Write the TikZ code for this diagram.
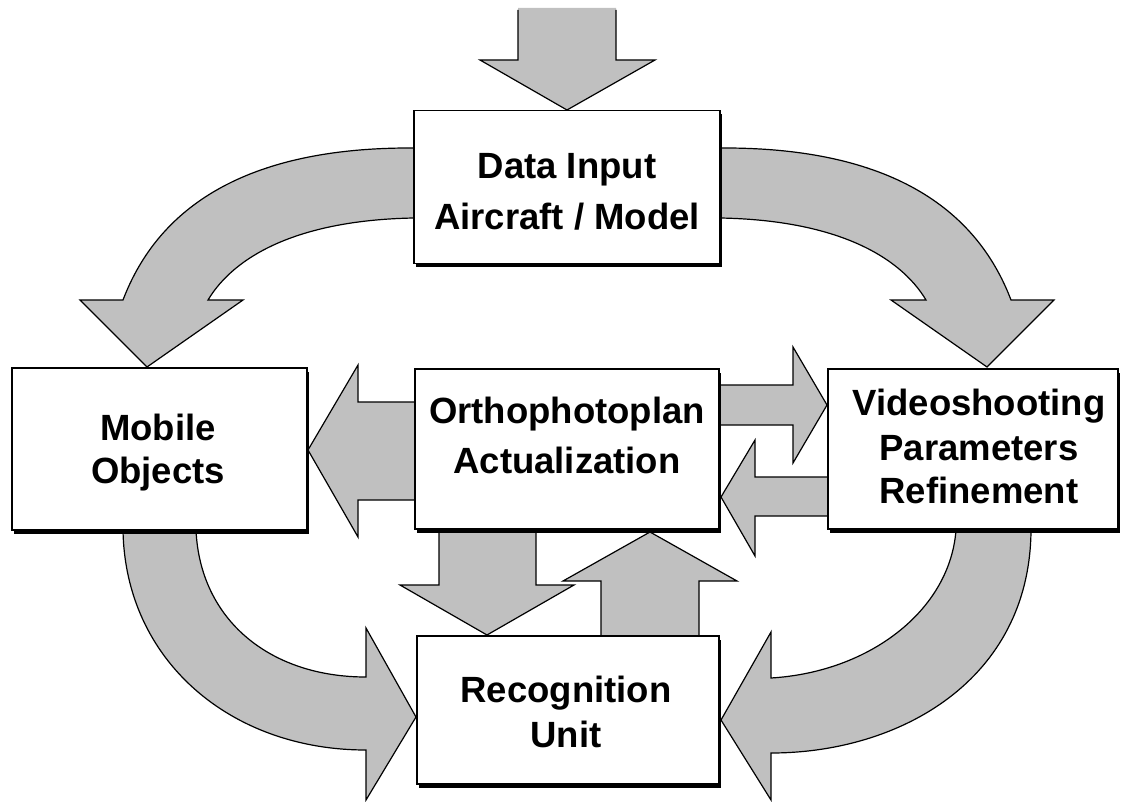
\documentclass[tikz,border=0pt]{standalone}
\usepackage{fontspec}
\setmainfont{Liberation Sans}
\usetikzlibrary{shadows}
\definecolor{arrgray}{RGB}{192,192,192}
\begin{document}
\begin{tikzpicture}[x=1pt,y=-1pt,
  blockarrow/.style={fill=arrgray, draw=black, line width=1.2pt, line join=miter},
  box/.style={draw=black, line width=1.5pt, fill=white, inner sep=0pt,
    drop shadow={shadow xshift=2pt, shadow yshift=-3.5pt, fill=black, opacity=1}},
  lbl/.style={anchor=base, inner sep=0pt, font=\fontsize{36.5}{40}\selectfont\bfseries}
]
\useasboundingbox (0,0) rectangle (1121,802);

% ---- block arrows (drawn first, boxes on top) ----
% top input arrow
\fill[arrgray] (518,8) -- (616,8) -- (616,60) -- (655,60) -- (567,110) -- (480,60) -- (518,60) -- cycle;
\draw[line width=1.2pt, line join=miter] (518,10) -- (518,60) -- (480,60) -- (567,110) -- (655,60) -- (616,60) -- (616,10);

% Data Input -> Mobile Objects (curved)
\draw[blockarrow] (414,148) .. controls (245,147) and (158,208) .. (123,300)
  -- (80,300) -- (147,367) -- (243,300) -- (208,300)
  .. controls (235,255) and (300,220) .. (414,218) -- cycle;

% Data Input -> Videoshooting (curved)
\draw[blockarrow] (720,148) .. controls (889,147) and (976,208) .. (1011,300)
  -- (1054,300) -- (987,367) -- (891,300) -- (926,300)
  .. controls (899,255) and (834,220) .. (720,218) -- cycle;

% Orthophotoplan -> Mobile Objects
\draw[blockarrow] (415,402) -- (358,402) -- (358,365) -- (308,450) -- (358,537) -- (358,500) -- (415,500) -- cycle;

% Orthophotoplan -> Videoshooting
\draw[blockarrow] (719,385) -- (793,385) -- (793,347) -- (827,405) -- (793,463) -- (793,425) -- (719,425) -- cycle;

% Videoshooting -> Orthophotoplan
\draw[blockarrow] (828,477) -- (755,477) -- (755,440) -- (721,497) -- (755,556) -- (755,516) -- (828,516) -- cycle;

% Recognition -> Orthophotoplan (up)
\draw[blockarrow] (601,636) -- (601,581) -- (563,581) -- (650,532) -- (737,581) -- (699,581) -- (699,636) -- cycle;

% Orthophotoplan -> Recognition (down)
\draw[blockarrow] (439,530) -- (439,585) -- (400,585) -- (487,635) -- (574,585) -- (536,585) -- (536,530) -- cycle;

% Mobile Objects -> Recognition (curved)
\draw[blockarrow] (123,530) .. controls (125,660) and (230,750) .. (366,750)
  -- (366,800) -- (416,717) -- (366,628) -- (366,677)
  .. controls (270,677) and (200,620) .. (196,530) -- cycle;

% Videoshooting -> Recognition (curved)
\draw[blockarrow] (1031,530) .. controls (1030,680) and (900,753) .. (771,753)
  -- (771,800) -- (721,720) -- (771,632) -- (771,678)
  .. controls (870,672) and (950,610) .. (956,530) -- cycle;

% ---- boxes ----
\node[box, minimum width=306pt, minimum height=153pt] (din) at (567,187) {};
\node[box, minimum width=295pt, minimum height=162pt] (mob) at (159.5,449) {};
\node[box, minimum width=304pt, minimum height=160pt] (ort) at (567,449) {};
\node[box, minimum width=290pt, minimum height=160pt] (vid) at (973,449) {};
\node[box, minimum width=302pt, minimum height=148pt] (rec) at (568,710) {};

% ---- texts ----
\node[lbl] (din1) at (567,179) {Data Input};
\node[lbl] (din2) at (567,230) {Aircraft / Model};
\node[lbl] (mob1) at (158,440) {Mobile};
\node[lbl] (mob2) at (158,483) {Objects};
\node[lbl] (ort1) at (567,423) {Orthophotoplan};
\node[lbl] (ort2) at (567,473) {Actualization};
\node[lbl] (vid1) at (979,415) {Videoshooting};
\node[lbl] (vid2) at (979,460) {Parameters};
\node[lbl] (vid3) at (979,503) {Refinement};
\node[lbl] (rec1) at (566,702) {Recognition};
\node[lbl] (rec2) at (566,747) {Unit};
\end{tikzpicture}
\end{document}
